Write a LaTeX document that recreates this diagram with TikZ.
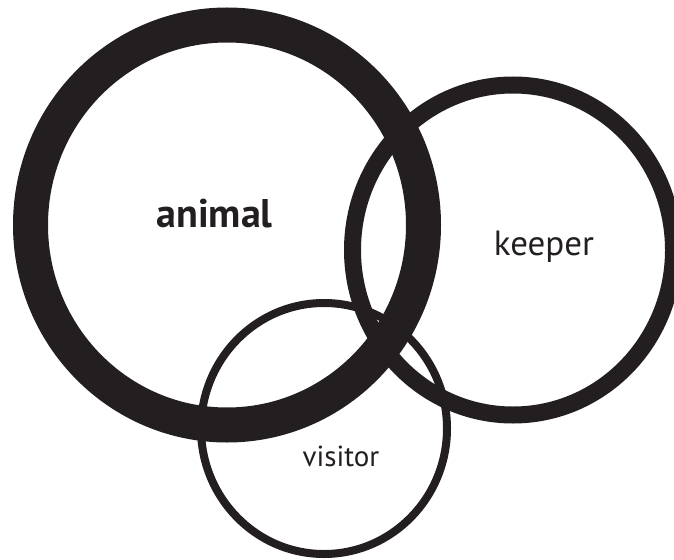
\documentclass[tikz,border=0pt]{standalone}
\usepackage{fontspec}
\setmainfont{PT Sans}
\definecolor{ink}{HTML}{231F20}
\begin{document}
\begin{tikzpicture}[x=1pt,y=-1pt,
  ring/.style={draw=ink},
  lbl/.style={text=ink,anchor=base,inner sep=0pt}]
\useasboundingbox (0,0) rectangle (674,559);
\clip (0,0) rectangle (674,559);
\draw[ring,line width=17pt] (513,250) ellipse [x radius=160.5pt, y radius=165pt];
\draw[ring,line width=35pt] (227,225) ellipse [x radius=196.5pt, y radius=200pt];
\draw[ring,line width=8pt] (324,428.5) ellipse [x radius=123pt, y radius=125.5pt];
\node[lbl,font=\bfseries\fontsize{40pt}{44pt}\selectfont] (animal) at (214.5,227) {animal};
\node[lbl,font=\fontsize{35pt}{39pt}\selectfont] (keeper) at (544,255) {keeper};
\node[lbl,font=\fontsize{29pt}{33pt}\selectfont] (visitor) at (341,466) {visitor};
\end{tikzpicture}
\end{document}
